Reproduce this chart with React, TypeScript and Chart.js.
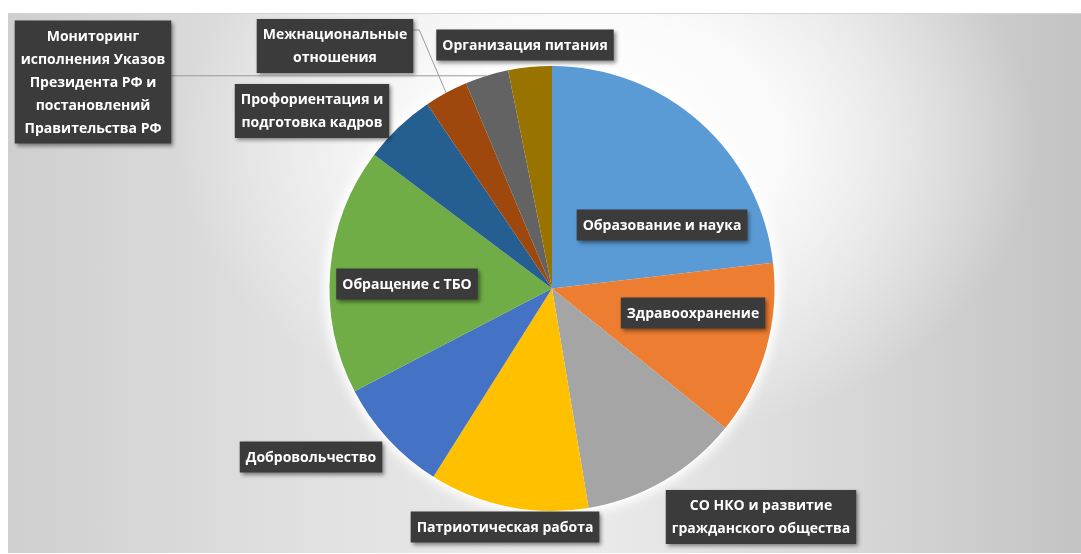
import React, { useEffect, useRef } from "react";
import { Chart, registerables } from "chart.js";

Chart.register(...registerables);

const categories: string[] = [
  "Образование и наука",
  "Здравоохранение",
  "СО НКО и развитие гражданского общества",
  "Патриотическая работа",
  "Добровольчество",
  "Обращение с ТБО",
  "Профориентация и подготовка кадров",
  "Межнациональные отношения",
  "Мониторинг исполнения Указов Президента РФ и постановлений Правительства РФ",
  "Организация питания",
];

const values: number[] = [22, 12, 11, 11, 8, 17, 5, 3, 3, 3];

const colors: string[] = [
  "#5B9BD5",
  "#ED7D31",
  "#A5A5A5",
  "#FFC000",
  "#4472C4",
  "#70AD47",
  "#255E91",
  "#9E480E",
  "#636363",
  "#997300",
];

const labelLines: string[][] = [
  ["Образование и наука"],
  ["Здравоохранение"],
  ["СО НКО и развитие", "гражданского общества"],
  ["Патриотическая работа"],
  ["Добровольчество"],
  ["Обращение с ТБО"],
  ["Профориентация и", "подготовка кадров"],
  ["Межнациональные", "отношения"],
  ["Мониторинг", "исполнения Указов", "Президента РФ и", "постановлений", "Правительства РФ"],
  ["Организация питания"],
];

// label box centres (canvas px) – layout only
const labelCenters: [number, number][] = [
  [654, 211],
  [685, 299],
  [753, 503],
  [497, 513],
  [303, 443],
  [399, 270],
  [304, 97],
  [327, 32],
  [85, 68],
  [517, 31],
];

// leader line kind per label
const leaderKinds: (string | null)[] = [null, null, null, null, null, null, null, "elbow", "horizontal", null];

const FONT = "bold 14px 'Open Sans', 'Noto Sans', sans-serif";
const LINE_H = 23;
const PAD_X = 6;
const PAD_Y = 4;

const glowPlugin = {
  id: "pieGlow",
  beforeDatasetsDraw(chart: any) {
    const meta = chart.getDatasetMeta(0);
    const arc = meta.data[0];
    if (!arc) return;
    const { x, y, outerRadius } = arc.getProps(["x", "y", "outerRadius"], true);
    const ctx = chart.ctx;
    ctx.save();
    ctx.shadowColor = "rgba(255,255,255,1)";
    ctx.shadowBlur = 14;
    ctx.fillStyle = "#ffffff";
    ctx.beginPath();
    ctx.arc(x, y, outerRadius + 1, 0, Math.PI * 2);
    ctx.fill();
    ctx.fill();
    ctx.restore();
  },
};

const labelPlugin = {
  id: "boxLabels",
  afterDatasetsDraw(chart: any) {
    const ctx = chart.ctx;
    const meta = chart.getDatasetMeta(0);
    ctx.save();
    ctx.font = FONT;
    meta.data.forEach((arc: any, i: number) => {
      const lines = labelLines[i];
      const [cx, cy] = labelCenters[i];
      const w = Math.max(...lines.map((l) => ctx.measureText(l).width)) + PAD_X * 2;
      const h = lines.length * LINE_H + PAD_Y * 2;
      const left = cx - w / 2;
      const top = cy - h / 2;

      // leader line
      const kind = leaderKinds[i];
      if (kind) {
        const p = arc.getProps(["x", "y", "startAngle", "endAngle", "outerRadius"], true);
        const mid = (p.startAngle + p.endAngle) / 2;
        const ex = p.x + Math.cos(mid) * p.outerRadius;
        const ey = p.y + Math.sin(mid) * p.outerRadius;
        ctx.strokeStyle = "#9a9a9a";
        ctx.lineWidth = 1;
        ctx.beginPath();
        if (kind === "horizontal") {
          ctx.moveTo(left + w, ey);
          ctx.lineTo(ex, ey);
        } else {
          const sy = top + 11;
          ctx.moveTo(left + w, sy);
          ctx.lineTo(left + w + 6, sy);
          ctx.lineTo(ex, ey);
        }
        ctx.stroke();
      }

      // box
      ctx.save();
      ctx.shadowColor = "rgba(0,0,0,0.45)";
      ctx.shadowBlur = 4;
      ctx.shadowOffsetX = 2;
      ctx.shadowOffsetY = 2;
      ctx.fillStyle = "#3b3b3b";
      ctx.fillRect(left, top, w, h);
      ctx.restore();

      // text
      ctx.fillStyle = "#ffffff";
      ctx.textAlign = "center";
      ctx.textBaseline = "middle";
      lines.forEach((l, k) => {
        ctx.fillText(l, cx, top + PAD_Y + LINE_H * k + LINE_H / 2 + 1);
      });
    });
    ctx.restore();
  },
};

export default function App() {
  const ref = useRef<HTMLCanvasElement | null>(null);

  useEffect(() => {
    if (!ref.current) return;
    const chart = new Chart(ref.current, {
      type: "pie",
      data: {
        labels: categories,
        datasets: [
          {
            data: values,
            backgroundColor: colors,
            borderWidth: 0,
          },
        ],
      },
      options: {
        animation: false,
        responsive: true,
        maintainAspectRatio: false,
        layout: { padding: { left: 321, right: 306, top: 52, bottom: 42 } },
        plugins: {
          legend: { display: false },
          tooltip: { enabled: false },
        },
      },
      plugins: [glowPlugin, labelPlugin],
    });
    return () => chart.destroy();
  }, []);

  return (
    <div
      style={{
        position: "fixed",
        left: 8,
        top: 13,
        width: 1073,
        height: 540,
        borderTop: "1px solid #d4d4d4",
        boxSizing: "border-box",
        background:
          "radial-gradient(ellipse 430px 300px at 600px 130px, rgba(255,255,255,1) 0%, rgba(255,255,255,0.85) 40%, rgba(255,255,255,0) 100%), linear-gradient(to right, #cfcfcf 0%, #e2e2e2 30%, #eaeaea 55%, #d6d6d6 80%, #c3c3c3 100%)",
      }}
    >
      <canvas ref={ref} />
    </div>
  );
}
